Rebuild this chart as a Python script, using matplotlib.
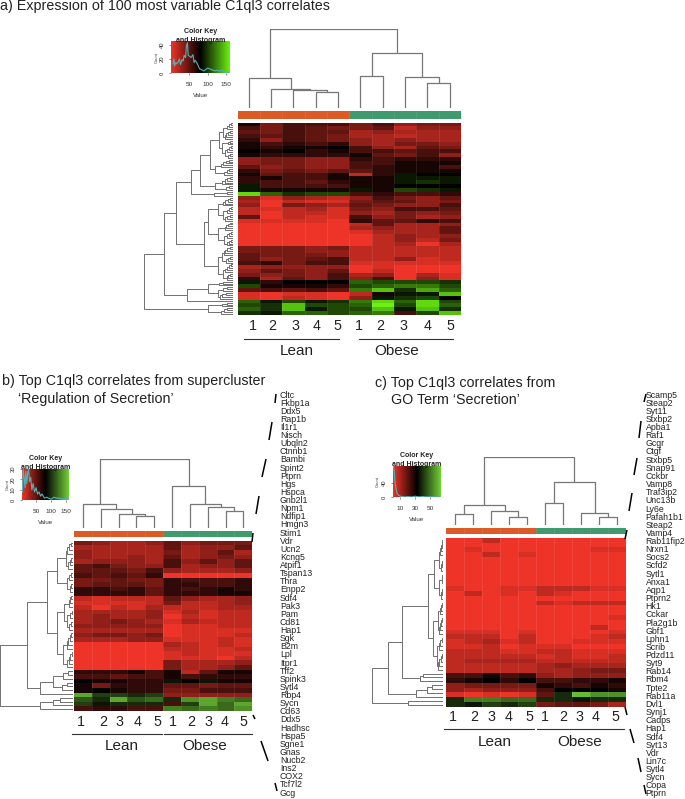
import matplotlib
matplotlib.use('Agg')
import matplotlib.pyplot as plt
from matplotlib.colors import LinearSegmentedColormap, ListedColormap
import numpy as np

plt.rcParams['font.family'] = ['Liberation Sans', 'DejaVu Sans']

W, H = 685, 799

# heatmap values: -10 bright red, 0 black, 10 bright green
heat_a = [
    [-1, -5, -3, -3, -3, -5, -3, -6, -5, -5],
    [-3, -5, -3, -4, -5, -5, -4, -8, -6, -6],
    [-4, -5, -3, -4, -4, -7, -6, -7, -7, -7],
    [-3, -4, -3, -4, -5, -7, -7, -8, -7, -7],
    [-2, -6, -3, -4, -5, -6, -7, -6, -7, -7],
    [-1, -3, -2, -3, -2, -6, -7, -5, -5, -6],
    [-1, -2, -1, -1, 0, -3, -6, -7, -4, -5],
    [0, -1, 0, -2, -1, -3, -3, -4, -3, -3],
    [-1, -2, -2, -2, -2, -1, -4, -5, -3, -6],
    [-6, -5, -5, -6, -6, -2, -3, -2, -2, -2],
    [-6, -5, -5, -6, -6, -3, -3, -1, -1, -1],
    [-4, -6, -5, -6, -6, -3, -2, -1, -1, -3],
    [-2, -5, -4, -5, -4, -4, -2, -1, -1, -1],
    [-1, -4, -3, -3, -1, -8, -2, 1, 0, 0],
    [-2, -1, -3, -3, -1, -1, -1, 1, 1, 1],
    [-2, -3, -3, -4, -2, -1, -1, 1, 2, 1],
    [1, -3, -3, -3, -3, -1, -1, 0, 0, 0],
    [1, -1, -1, -1, -1, 1, -1, 3, 2, 1],
    [9, 4, 2, 3, 3, -3, -2, -3, -3, -2],
    [-6, -9, -6, -7, -8, -6, -3, -5, -6, -4],
    [-7, -10, -8, -9, -9, -5, -4, -4, -6, -5],
    [-6, -10, -5, -6, -7, -4, -5, -6, -6, -3],
    [-8, -9, -8, -7, -9, -5, -6, -3, -3, -4],
    [-8, -10, -8, -8, -9, -6, -7, -5, -6, -5],
    [-4, -10, -8, -9, -9, -3, -6, -5, -7, -6],
    [-9, -9, -9, -9, -10, -2, -4, -4, -2, -3],
    [-10, -10, -10, -10, -10, -8, -4, -7, -7, -6],
    [-10, -10, -10, -10, -10, -7, -6, -7, -7, -4],
    [-10, -10, -10, -10, -10, -9, -7, -7, -7, -4],
    [-10, -10, -10, -10, -10, -10, -8, -6, -7, -6],
    [-10, -10, -10, -10, -10, -10, -8, -6, -8, -5],
    [-10, -10, -10, -10, -10, -10, -8, -7, -10, -7],
    [-5, -5, -5, -6, -5, -8, -8, -8, -8, -8],
    [-5, -5, -5, -6, -6, -8, -8, -8, -8, -8],
    [-4, -5, -5, -5, -6, -8, -8, -8, -8, -8],
    [-4, -6, -5, -4, -3, -8, -8, -6, -9, -8],
    [-3, -2, -5, -3, -3, -9, -9, -9, -9, -9],
    [-7, -6, -6, -6, -6, -10, -9, -10, -10, -10],
    [-6, -4, -5, -6, -4, -10, -8, -10, -10, -10],
    [-5, -6, -5, -6, -3, -7, -6, -10, -7, -9],
    [-2, -7, -4, -6, -3, -6, -3, -10, -6, -9],
    [1, -2, 0, 0, 0, 4, 3, 3, 3, 2],
    [3, -1, -1, -1, -2, 3, 4, 5, 5, 3],
    [-4, -3, -4, -3, -4, 5, 8, 2, 7, 4],
    [-9, -10, -9, -9, -10, -8, -1, 1, 1, 8],
    [-9, -10, -8, -9, -10, -6, 1, 2, 3, 0],
    [4, 1, 3, 1, 2, 5, 9, 4, 9, 3],
    [3, 2, 8, 3, 3, 4, 10, 3, 9, 4],
    [4, 2, 8, 1, 3, 3, 8, 1, 8, 2],
    [2, 1, 4, 4, 3, 4, 5, -3, 3, 8],
]
heat_b = [
    [-5, -6, -7, -7, -6, -4, -6, -5, -5, -5],
    [-7, -7, -7, -7, -7, -4, -7, -6, -6, -4],
    [-6, -7, -7, -7, -7, -5, -7, -6, -4, -7],
    [-6, -7, -7, -6, -7, -4, -7, -6, -5, -6],
    [-7, -6, -6, -6, -7, -3, -6, -4, -6, -4],
    [-4, -3, -5, -6, -6, -3, -7, -6, -6, -4],
    [-4, -4, -4, -5, -3, -6, -7, -7, -7, -6],
    [-3, -4, -3, -4, -2, -10, -10, -10, -10, -10],
    [-5, -5, -4, -5, -5, -2, -3, -3, -3, -2],
    [-5, -4, -4, -4, -5, -2, -2, -3, -3, -2],
    [-2, -2, -3, -2, -4, -2, -3, -2, -1, -2],
    [-2, -2, -2, -2, -4, -2, -2, -2, -1, -1],
    [-8, -9, -8, -8, -8, -4, -6, -7, -7, -6],
    [-9, -9, -9, -9, -8, -5, -8, -8, -7, -6],
    [-8, -10, -8, -9, -7, -8, -8, -8, -7, -7],
    [-7, -7, -7, -7, -6, -9, -7, -9, -8, -8],
    [-7, -6, -7, -7, -6, -10, -8, -9, -8, -8],
    [-7, -6, -5, -6, -7, -9, -7, -8, -8, -8],
    [-6, -6, -6, -6, -6, -10, -9, -9, -8, -8],
    [-7, -7, -7, -7, -7, -10, -9, -9, -9, -9],
    [-6, -5, -5, -6, -5, -10, -9, -9, -9, -8],
    [-7, -7, -7, -6, -6, -9, -9, -9, -8, -9],
    [-10, -10, -10, -10, -10, -7, -8, -9, -8, -9],
    [-10, -10, -10, -10, -10, -8, -8, -9, -9, -8],
    [-10, -10, -10, -10, -10, -9, -8, -9, -9, -9],
    [-10, -10, -10, -10, -10, -9, -9, -9, -10, -8],
    [-10, -10, -10, -10, -10, -5, -7, -7, -7, -6],
    [-10, -10, -10, -10, -10, -5, -7, -7, -6, -4],
    [-2, -2, -2, -1, -3, -1, -8, -4, -1, -1],
    [-3, -3, -4, -3, -3, -1, -3, -2, -2, -2],
    [0, -1, -1, -2, -2, 1, 0, 1, -1, -1],
    [-1, -5, -2, -2, -2, -4, -4, -5, -4, -4],
    [-1, 0, -1, -2, -2, -5, -5, -3, -3, -3],
    [8, 3, 3, 2, 3, -6, -6, -6, -6, -6],
    [4, 2, 8, 4, 5, 2, 7, 8, 6, 5],
    [3, 1, 2, 2, 2, -3, 3, 8, 5, 8],
    [-3, -2, -2, -3, -3, 6, 5, 6, 5, 7],
]
heat_c = [
    [-10, -10, -8, -10, -10, -10, -10, -10, -10, -10],
    [-10, -10, -10, -10, -10, -10, -10, -10, -10, -10],
    [-10, -9, -10, -10, -10, -10, -10, -10, -9, -9],
    [-10, -10, -8, -10, -9, -10, -10, -10, -10, -10],
    [-10, -10, -10, -10, -10, -10, -10, -10, -10, -10],
    [-10, -10, -10, -10, -10, -10, -10, -10, -10, -10],
    [-10, -10, -10, -10, -10, -10, -10, -10, -10, -10],
    [-10, -10, -10, -10, -10, -10, -10, -10, -10, -10],
    [-10, -10, -10, -10, -10, -10, -10, -10, -10, -10],
    [-10, -10, -10, -10, -10, -10, -10, -10, -10, -10],
    [-9, -10, -10, -9, -9, -8, -8, -8, -9, -9],
    [-10, -8, -10, -9, -10, -8, -9, -10, -10, -10],
    [-10, -10, -10, -10, -10, -10, -10, -10, -10, -10],
    [-10, -10, -10, -10, -10, -8, -9, -8, -8, -8],
    [-10, -10, -10, -10, -10, -10, -10, -10, -10, -10],
    [-10, -10, -10, -10, -10, -10, -10, -10, -10, -10],
    [-10, -10, -10, -10, -10, -10, -10, -10, -10, -9],
    [-10, -10, -10, -10, -10, -10, -10, -10, -10, -10],
    [-10, -10, -10, -10, -10, -10, -10, -10, -8, -10],
    [-9, -9, -9, -10, -9, -10, -10, -10, -10, -9],
    [-8, -8, -8, -10, -8, -10, -10, -10, -9, -8],
    [-9, -8, -7, -9, -8, -10, -10, -9, -9, -9],
    [-9, -9, -8, -10, -9, -9, -9, -10, -10, -10],
    [-8, -8, -8, -9, -9, -8, -8, -9, -9, -9],
    [-8, -8, -8, -8, -8, -9, -8, -9, -9, -8],
    [-8, -7, -7, -7, -7, -8, -8, -8, -8, -8],
    [-8, -8, -8, -8, -8, -7, -6, -7, -7, -7],
    [-8, -8, -8, -8, -8, -7, -7, -6, -5, -5],
    [-3, -3, -1, -3, -2, -6, -7, -6, -6, -6],
    [-2, -1, 0, -2, 0, -3, -3, -2, -2, -1],
    [-6, -5, -5, -5, -5, -1, -2, -3, -1, -2],
    [-6, -7, -6, -6, -6, -3, 0, 0, 0, -1],
    [-9, -10, -9, -10, -9, -4, 2, 9, 7, 7],
    [2, 6, 6, 5, 5, 2, 2, 1, 2, 2],
    [2, 1, 3, 2, 3, -5, -4, -4, -5, -7],
]
groups = [0, 0, 0, 0, 0, 1, 1, 1, 1, 1]

# dendrograms: (height, upper, lower); a plain list is a run of merges, [] one leaf
col_tree_a = (237, (90, [], (58, [], (56, [], [50]))), (165, (96, [], []), (93, [], (75, [], []))))
col_tree_b = (207, (73, [], (57, [], (43, [], [36]))), (127, [], (73, [], (65, [], [52]))))
col_tree_c = (205, (60, [32], (41, [], [24])), (128, [65], (37, [], [24])))

row_tree_a = (267,
    (207,
        (171,
            (128,
                (99,
                    (70,
                        (42, (30, [8, 14, 20], [10, 16, 22, 24]),
                             (33, [9, 15], (24, [7, 12, 18], [11, 17]))),
                        (55, [14, 22, 30, 38], [12, 20, 28])),
                    (55, [10, 18, 26, 34], [12, 22])),
                [20, 57]),
            (88,
                (75, (45, [9, 16, 24, 30], (30, [8, 14, 20], [10, 18, 24])),
                     (45, [9, 15, 22, 26], (28, [7, 13, 20], [8, 14, 19]))),
                (45, (35, [10, 18, 24, 28], [9, 15, 22]),
                     (32, [8, 14, 20, 24], [10, 16, 20])))),
        (138, (75, [30, 42], (45, [18, 30], [22, 34, 40])), [])),
    (75, [20, 34], [18, 28, 38]))

row_tree_b = (220,
    (140,
        (78,
            (50, (22, [8, 14, 18], [6, 11, 16]), (18, [8, 12], [6, 10])),
            (50, (28, [6, 10, 14], (18, [5, 9], [7, 12])),
                 (32, [6, 11, 16, 20], [5, 9, 14, 18]))),
        (100, (60, [15, 30], [18, 35]), [])),
    (100, [40, 60], []))

row_tree_c = (215,
    (165,
        (123,
            (45,
                (28, (14, [3, 5, 7, 9], [2, 4, 7]), (12, [3, 5], [2, 4, 6])),
                (30, (16, [4, 7, 10], [3, 6, 9, 12]), (20, [5, 9, 13], [4, 8, 12, 15]))),
            [60, 70]),
        (82, [35, 50], [])),
    (105, [], []))

# colour key histograms
hist_x_a = [5, 8, 10, 13, 16, 20, 23, 26, 30, 33, 36, 40, 42, 45, 47, 50, 55, 60, 63, 66, 70, 73, 78, 82,
            86, 90, 95, 100, 105, 110, 115, 120, 125, 130, 135, 140, 145, 150, 155, 160]
hist_y_a = [13, 20, 10, 15, 13, 16, 20, 12, 19, 17, 25, 22, 38, 43, 25, 24, 22, 26, 15, 18, 15, 12, 6, 5,
            4, 3, 5, 7, 6, 5, 4, 3, 4, 3, 3, 5, 1, 2, 1, 1]
hist_x_b = [4, 7, 10, 13, 16, 19, 22, 25, 28, 32, 36, 40, 45, 50, 55, 60, 65, 70, 78, 85, 92, 100, 110, 120, 130, 140, 150, 158]
hist_y_b = [8, 30, 22, 12, 28, 16, 26, 30, 18, 22, 10, 16, 8, 12, 6, 8, 4, 6, 2, 3, 2, 1, 3, 2, 2, 1, 2, 1]
hist_x_c = [1, 2, 3, 4, 5, 6, 8, 10, 13, 16, 20, 25, 30, 35, 40, 45, 50, 55, 62]
hist_y_c = [85, 70, 45, 28, 18, 10, 5, 3, 2, 1, 2, 1, 3, 1, 2, 1, 1, 1, 1]

genes_b = ['Cltc', 'Fkbp1a', 'Ddx5', 'Rap1b', 'Il1r1', 'Nisch', 'Ubqln2', 'Ctnnb1', 'Bambi', 'Spint2',
           'Ptprn', 'Hgs', 'Hspca', 'Gnb2l1', 'Npm1', 'Ndfip1', 'Hmgn3', 'Stim1', 'Vdr', 'Ucn2',
           'Kcng5', 'Atpif1', 'Tspan13', 'Thra', 'Enpp2', 'Sdf4', 'Pak3', 'Pam', 'Cd81', 'Hap1',
           'Sgk', 'B2m', 'Lpl', 'Itpr1', 'Tff2', 'Spink3', 'Sytl4', 'Rbp4', 'Sycn', 'Cd63',
           'Ddx5', 'Hadhsc', 'Hspa5', 'Sgne1', 'Gnas', 'Nucb2', 'Ins2', 'COX2', 'Tcf7l2', 'Gcg']
genes_c = ['Scamp5', 'Steap2', 'Syt11', 'Stxbp2', 'Apba1', 'Raf1', 'Gcgr', 'Ctgf', 'Stxbp5', 'Snap91',
           'Cckbr', 'Vamp8', 'Traf3ip2', 'Unc13b', 'Ly6e', 'Pafah1b1', 'Steap2', 'Vamp4', 'Rab11fip2', 'Nrxn1',
           'Socs2', 'Scfd2', 'Sytl1', 'Anxa1', 'Aqp1', 'Ptprn2', 'Hk1', 'Cckar', 'Pla2g1b', 'Gbf1',
           'Lphn1', 'Scrib', 'Pdzd11', 'Syt9', 'Rab14', 'Rbm4', 'Tpte2', 'Rab11a', 'Dvl1', 'Synj1',
           'Cadps', 'Hap1', 'Sdf4', 'Syt13', 'Vdr', 'Lin7c', 'Sytl4', 'Sycn', 'Copa', 'Ptprn']

fig = plt.figure(figsize=(W / 100, H / 100), dpi=100)


def px_axes(x0, y0, x1, y1):
    return fig.add_axes([x0 / W, 1 - y1 / H, (x1 - x0) / W, (y1 - y0) / H])


def count_leaves(node):
    if isinstance(node, list):
        return len(node) + 1
    return count_leaves(node[1]) + count_leaves(node[2])


def draw_tree(ax, node, start, vertical, color='#6e6e6e', lw=0.8):
    # returns centre position and height of the node
    def seg(a, b):
        if vertical:
            ax.plot(a, b, color=color, lw=lw, solid_capstyle='butt')
        else:
            ax.plot(b, a, color=color, lw=lw, solid_capstyle='butt')

    def join(p1, h1, p2, h2, h):
        seg([p1, p1, p2, p2], [h1, h, h, h2])
        return (p1 + p2) / 2

    if isinstance(node, list):
        pos, h = start + 0.5, 0
        for i, m in enumerate(node):
            pos = join(pos, h, start + i + 1.5, 0, m)
            h = m
        return pos, h
    p1, h1 = draw_tree(ax, node[1], start, vertical, color, lw)
    p2, h2 = draw_tree(ax, node[2], start + count_leaves(node[1]), vertical, color, lw)
    return join(p1, h1, p2, h2, node[0]), node[0]


def panel(heat, col_tree, row_tree, cmap, hm, bar, col_y, row_x):
    x0, y0, x1, y1 = hm
    ax = px_axes(x0, y0, x1, y1)
    data = np.array(heat)
    ax.pcolormesh(data, cmap=cmap, vmin=-10, vmax=10)
    ax.vlines(range(1, 10), 0, len(heat), color='white', lw=0.5, alpha=0.12)
    ax.set_ylim(len(heat), 0)
    ax.axis('off')

    ax = px_axes(x0, bar[0], x1, bar[1])
    ax.pcolormesh(np.array([groups]), cmap=ListedColormap(['#db5a26', '#3f9a6e']))
    ax.vlines(range(1, 10), 0, 1, color='white', lw=0.4, alpha=0.15)
    ax.axis('off')

    ax = px_axes(x0, col_y[0], x1, col_y[1])
    draw_tree(ax, col_tree, 0, True, color='#777777', lw=0.9)
    ax.set_xlim(0, 10)
    ax.set_ylim(0, col_tree[0] + 0.5)
    ax.axis('off')

    ax = px_axes(row_x[0], y0, row_x[1], y1)
    draw_tree(ax, row_tree, 0, False, color='#707070', lw=0.7)
    ax.set_ylim(count_leaves(row_tree), 0)
    ax.set_xlim(row_tree[0] + 0.5, 0)
    ax.axis('off')


def color_key(cmap, box, xlim, ylim, xticks, yticks, hx, hy):
    ax = px_axes(*box)
    ax.imshow(np.linspace(-10, 10, 200).reshape(1, -1), cmap=cmap, aspect='auto',
              extent=[xlim[0], xlim[1], ylim[0], ylim[1]], vmin=-10, vmax=10)
    ax.plot(hx, hy, color='#4fb3b8', lw=0.8)
    ax.set_xlim(xlim)
    ax.set_ylim(ylim)
    ax.set_xticks(xticks)
    ax.set_yticks(yticks)
    ax.tick_params(axis='x', labelsize=4.6, length=1.5, width=0.4, pad=5, colors='#333333')
    ax.tick_params(axis='y', labelsize=4.2, length=1.5, width=0.4, pad=3, colors='#333333', labelrotation=90)
    for lab in ax.get_yticklabels():
        lab.set_va('center')
    for s in ax.spines.values():
        s.set_visible(False)
    ax.set_xlabel('Value', fontsize=4.4, labelpad=4, color='#333333')
    ax.set_ylabel('Count', fontsize=3, labelpad=1, color='#333333')
    ax.text(0.5, 1.32, 'Color Key', transform=ax.transAxes, ha='center', va='center',
            fontsize=5, fontweight='bold', color='#222222')
    ax.text(0.5, 1.04, 'and Histogram', transform=ax.transAxes, ha='center', va='center',
            fontsize=5, fontweight='bold', color='#222222')


cmap_a = LinearSegmentedColormap.from_list('a', ['#ee3428', '#000000', '#6bf012'])
cmap_bc = LinearSegmentedColormap.from_list('bc', ['#ee3428', '#000000', '#72cf38'])

panel(heat_a, col_tree_a, row_tree_a, cmap_a, (237.5, 122.5, 461, 315), (111, 119), (29, 108.3), (144.3, 233.3))
panel(heat_b, col_tree_b, row_tree_b, cmap_bc, (74, 540.7, 252.3, 711), (530.7, 537.3), (459.3, 528.3), (0, 73.3))
panel(heat_c, col_tree_c, row_tree_c, cmap_bc, (446, 537.7, 626, 707), (527.7, 534.3), (456.7, 525), (371.7, 443.3))

color_key(cmap_a, (171, 41.3, 229.5, 73), (0, 160), (0, 45), [50, 100, 150], [0, 20, 40], hist_x_a, hist_y_a)
color_key(cmap_bc, (22, 469, 69, 500.3), (3, 160), (0, 30), [50, 100, 150], [0, 10, 20, 30], hist_x_b, hist_y_b)
color_key(cmap_bc, (392.7, 465.7, 440, 497.3), (0, 63), (0, 86), [10, 30, 50], [0, 40], hist_x_c, hist_y_c)

# overlay in picture pixels for titles, labels and the leader dashes
ov = fig.add_axes([0, 0, 1, 1])
ov.set_xlim(0, W)
ov.set_ylim(H, 0)
ov.axis('off')
ov.patch.set_alpha(0)

ink = '#222222'
ov.text(0, 6, 'a) Expression of 100 most variable C1ql3 correlates', fontsize=10.3, va='center', color=ink)
ov.text(2, 381, 'b) Top C1ql3 correlates from supercluster', fontsize=10.3, va='center', color=ink)
ov.text(18, 399, '\u2018Regulation of Secretion\u2019', fontsize=10.3, va='center', color=ink)
ov.text(375, 383, 'c) Top C1ql3 correlates from', fontsize=10.3, va='center', color=ink)
ov.text(391, 400, 'GO Term \u2018Secretion\u2019', fontsize=10.3, va='center', color=ink)

nums = ['1', '2', '3', '4', '5', '1', '2', '3', '4', '5']
num_x = {
    'a': [253, 272, 295, 317, 337, 359, 380, 403, 428, 450],
    'b': [81, 103, 119, 138, 157, 173, 191, 208, 225, 243],
    'c': [453, 474, 491, 509, 529, 545, 563, 579, 596, 615],
}
num_y = {'a': 325.5, 'b': 721.5, 'c': 717}
for k in num_x:
    for x, s in zip(num_x[k], nums):
        ov.text(x, num_y[k], s, fontsize=10.3, ha='center', va='center', color=ink)

# Lean / Obese brackets
for x0, x1, y, xt, yt, s in [(244, 339, 338.5, 297, 351, 'Lean'), (359, 453, 338.5, 397, 351, 'Obese'),
                             (72, 162, 734, 122, 746.5, 'Lean'), (164, 252, 734, 205, 746.5, 'Obese'),
                             (444, 534, 729, 495, 742, 'Lean'), (537, 624, 729, 580, 742, 'Obese')]:
    ov.plot([x0, x1], [y, y], color='#333333', lw=0.8)
    ov.text(xt, yt, s, fontsize=11, ha='center', va='center', color=ink)

for genes, x, y0, y1 in [(genes_b, 280, 395, 793), (genes_c, 645.7, 395, 794)]:
    for g, y in zip(genes, np.linspace(y0, y1, len(genes))):
        ov.text(x, y, g, fontsize=6.3, ha='left', va='center', color=ink)

dashes_b = [(276, 394, 275, 403), (272, 422, 269, 440), (266, 459, 262, 477), (259, 496, 256, 514),
            (253, 533, 252, 542), (253, 715, 255, 719), (261, 741, 268, 761), (275, 783, 277, 791)]
dashes_c = [(646, 394, 644, 402), (641, 421, 639, 438), (637, 458, 634, 475), (632, 493, 629, 511),
            (627, 530, 625, 539), (625, 707, 627, 715), (630, 729, 634, 743), (638, 758, 641, 772),
            (644, 785, 646, 794)]
for x0, y0, x1, y1 in dashes_b + dashes_c:
    ov.plot([x0, x1], [y0, y1], color='black', lw=1.1, solid_capstyle='butt')

fig.savefig('out.png', dpi=100)
